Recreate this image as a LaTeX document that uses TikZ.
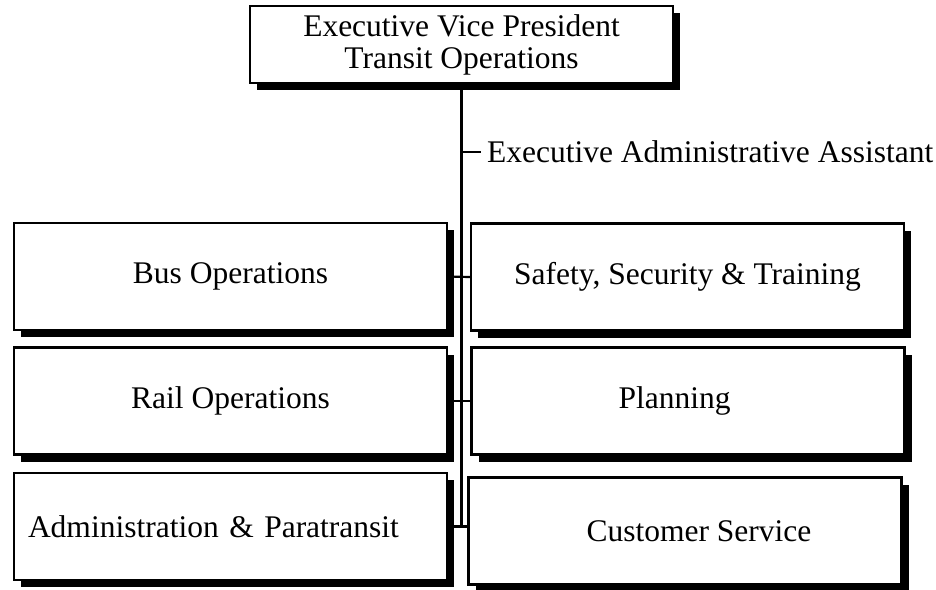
\documentclass[tikz,border=0pt]{standalone}
\usepackage{fontspec}
\setmainfont{Liberation Serif}
\usetikzlibrary{positioning,shadows}

\begin{document}
\begin{tikzpicture}[x=1pt,y=-1pt,line width=2.2pt,
    unitt/.style={draw=black,fill=white,rectangle,inner sep=0pt,minimum width=433pt,minimum height=107pt,
      font=\fontsize{31.5}{32}\selectfont,general shadow={fill=black,shadow xshift=7pt,shadow yshift=-7pt}}]
%
   \useasboundingbox (0,0) rectangle (936,589);
   \node[unitt,minimum width=423pt,minimum height=77pt,align=center] (EVP) at (461.5,44.5) {Executive Vice President\\Transit Operations};
   \node[unitt]         (BUS)  at (230.5,276.5) {Bus Operations};
   \node[unitt]         (RAIL) at (230.5,401)   {Rail Operations};
   \node[unitt,text width=405pt,inner xsep=14pt,align=left] (ADM) at (230.5,526.5) {Administration \& Paratransit};
   \node[unitt]         (SST)  at (687.5,277)   {Safety, Security \& Training};
   \node[unitt]         (PLN)  at (688,401)     {\hspace*{-27pt}Planning};
   \node[unitt]         (CS)   at (685,531)     {\hspace*{28pt}Customer Service};
   \node[anchor=west,inner xsep=5pt,font=\fontsize{31.5}{32}\selectfont] (ASST) at (481,152) {Executive Administrative Assistant};
   \coordinate (T) at (EVP.south |- ADM.east);
   \path (EVP.south) edge (T);
   \path (EVP.south |- ASST.west) edge (ASST.west);
   \path (BUS.east) edge (SST.west);
   \path (RAIL.east) edge (PLN.west);
   \path (ADM.east) edge (ADM.east -| CS.west);
\end{tikzpicture}
\end{document}
